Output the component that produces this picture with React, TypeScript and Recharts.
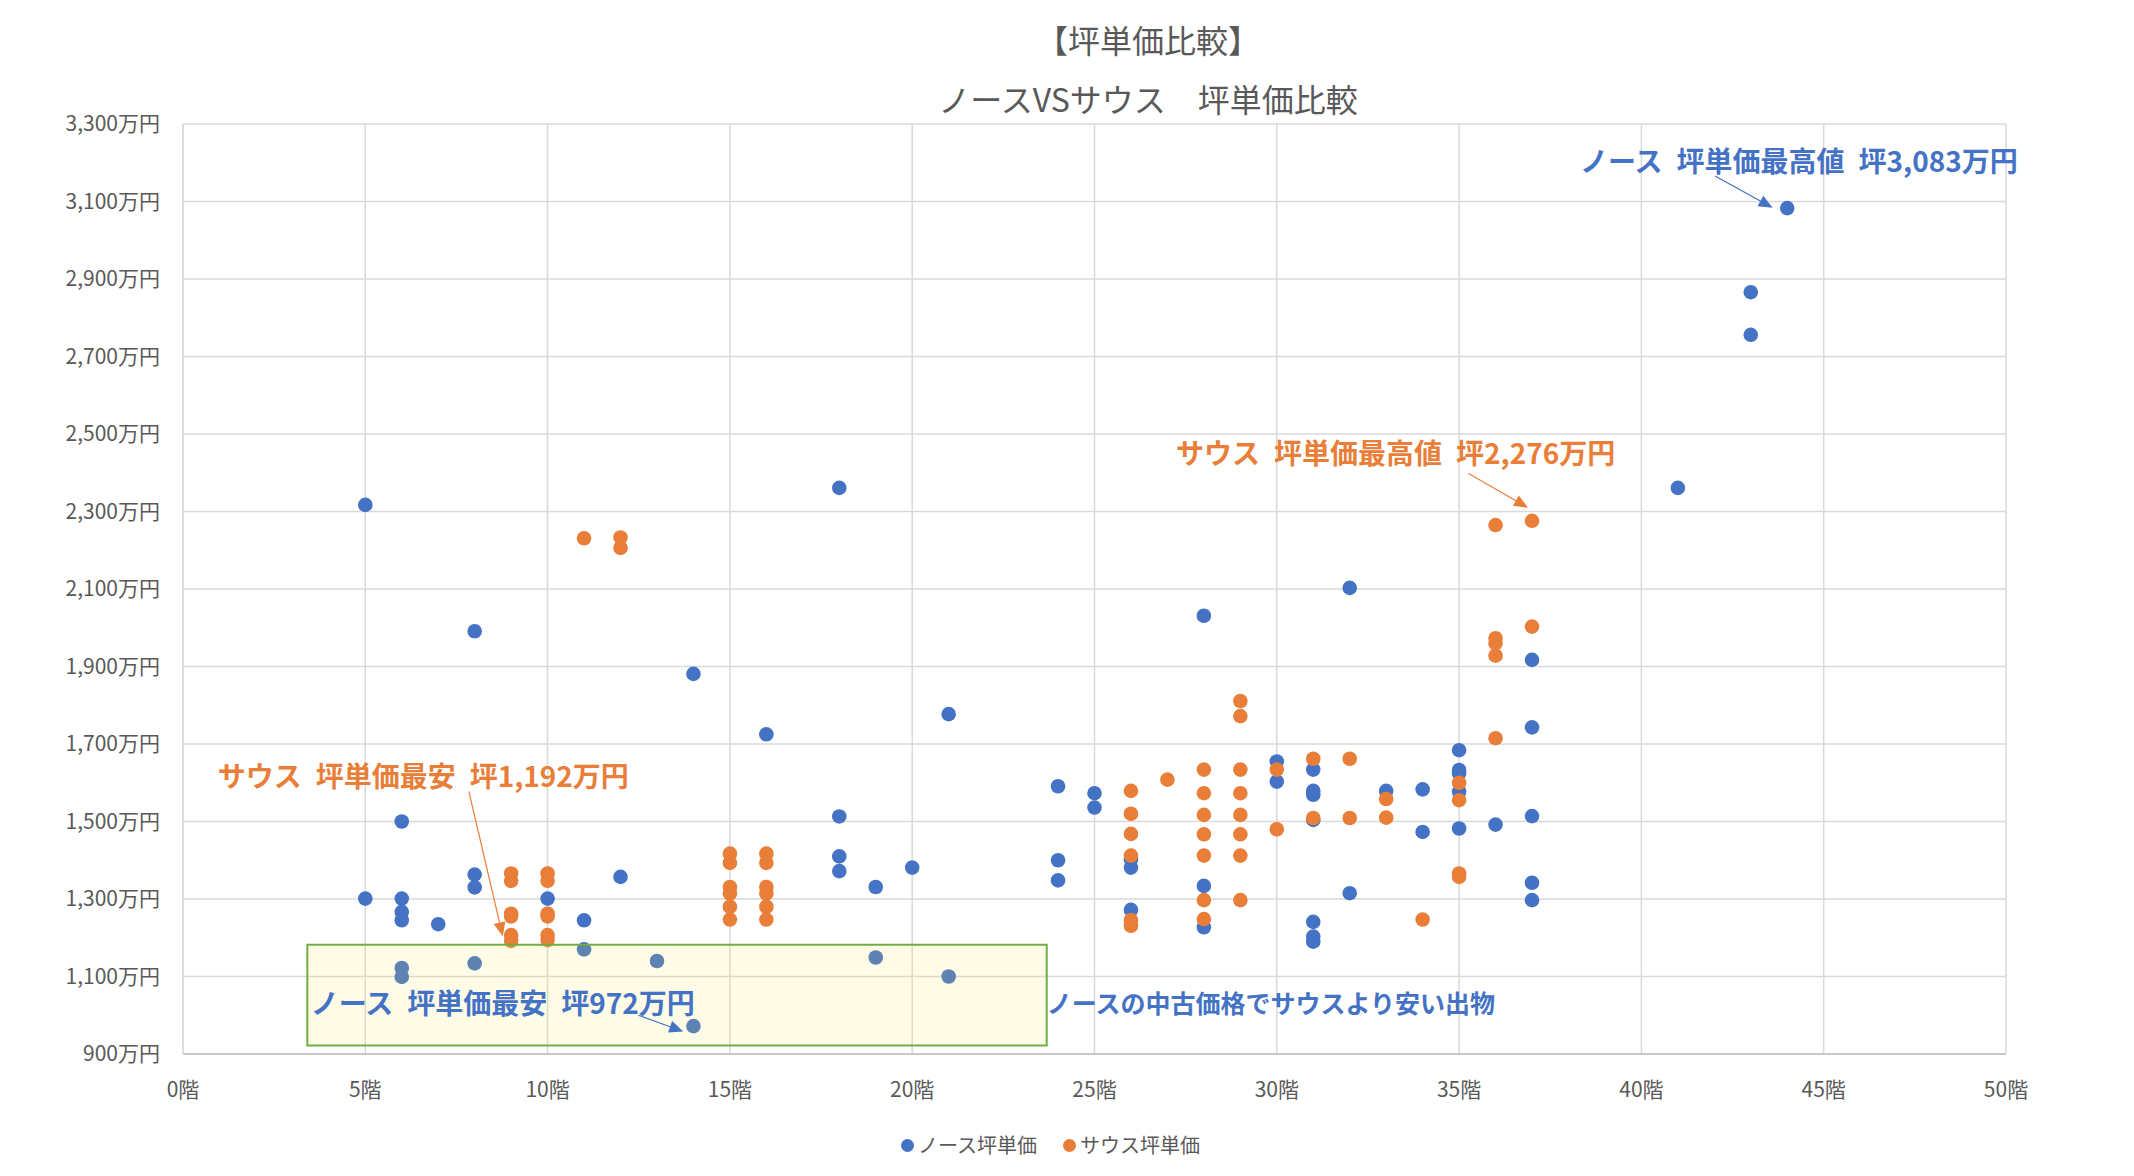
import {
  ScatterChart,
  Scatter,
  XAxis,
  YAxis,
  CartesianGrid,
  ReferenceArea,
  ReferenceLine,
  ReferenceDot,
} from "recharts";

// ノース (blue) : 階数 / 坪単価(万円)
const northFloor = [
  5, 5, 6, 6, 6, 6, 6, 6, 7, 8, 8, 8, 8, 10, 11, 11, 12, 13, 14, 14, 16, 18, 18, 18, 18, 19, 19, 20, 21, 21,
  24, 24, 24, 25, 25, 26, 26, 26, 28, 28, 28, 30, 30, 31, 31, 31, 31, 31, 31, 31, 32, 32, 33, 34, 34,
  35, 35, 35, 35, 35, 36, 37, 37, 37, 37, 37, 41, 43, 43, 44,
];
const northPrice = [
  2317, 1301, 1500, 1301, 1267, 1245, 1122, 1099, 1235, 1991, 1363, 1330, 1134, 1301, 1245, 1170, 1357, 1140, 1881, 972, 1725, 2361, 1513, 1410, 1372, 1331, 1149, 1381, 1777, 1100,
  1591, 1400, 1348, 1573, 1536, 1402, 1381, 1272, 2031, 1334, 1227, 1655, 1603, 1634, 1579, 1569, 1504, 1241, 1203, 1190, 2103, 1315, 1579, 1583, 1473,
  1684, 1633, 1624, 1577, 1482, 1492, 1917, 1743, 1514, 1342, 1297, 2361, 2866, 2756, 3083,
];

// サウス (orange)
const southFloor = [
  9, 9, 9, 9, 9, 9, 10, 10, 10, 10, 10, 10, 11, 12, 12, 15, 15, 15, 15, 15, 15, 16, 16, 16, 16, 16, 16,
  26, 26, 26, 26, 26, 26, 27, 28, 28, 28, 28, 28, 28, 28, 29, 29, 29, 29, 29, 29, 29, 29,
  30, 30, 31, 31, 32, 32, 33, 33, 34, 35, 35, 35, 35, 36, 36, 36, 36, 36, 37, 37,
];
const southPrice = [
  1366, 1347, 1262, 1255, 1207, 1192, 1366, 1347, 1262, 1255, 1207, 1194, 2231, 2233, 2206, 1417, 1393, 1331, 1314, 1280, 1247, 1417, 1393, 1331, 1314, 1280, 1247,
  1579, 1520, 1468, 1412, 1246, 1231, 1608, 1634, 1573, 1517, 1467, 1412, 1297, 1248, 1811, 1772, 1634, 1573, 1517, 1467, 1412, 1297,
  1634, 1480, 1662, 1509, 1662, 1509, 1558, 1510, 1247, 1600, 1555, 1366, 1357, 2265, 1973, 1960, 1928, 1715, 2276, 2003,
];

const xTicks = [0, 5, 10, 15, 20, 25, 30, 35, 40, 45, 50];
const yTicks = [900, 1100, 1300, 1500, 1700, 1900, 2100, 2300, 2500, 2700, 2900, 3100, 3300];

const BLUE = "#4472C4";
const ORANGE = "#E87E38";
const GRAY = "#595959";
const FONT = "'Noto Sans CJK JP', 'Noto Sans', sans-serif";
const SP = "\u2002"; // 半角幅の空白

const northData = northFloor.map((f, i) => ({ floor: f, price: northPrice[i] }));
const southData = southFloor.map((f, i) => ({ floor: f, price: southPrice[i] }));

const yen = (v: number) => `${String(v).replace(/\B(?=(\d{3})+(?!\d))/g, ",")}万円`;

const dot = (color: string) => (p: any) => <circle cx={p.cx} cy={p.cy} r={7.3} fill={color} />;

// 矢印 (線 + 三角)
const arrow = (color: string) => (p: any) => {
  const { x1, y1, x2, y2 } = p;
  const dx = x2 - x1;
  const dy = y2 - y1;
  const len = Math.sqrt(dx * dx + dy * dy) || 1;
  const ux = dx / len;
  const uy = dy / len;
  const bx = x2 - ux * 14;
  const by = y2 - uy * 14;
  const pts = `${x2},${y2} ${bx - uy * 6},${by + ux * 6} ${bx + uy * 6},${by - ux * 6}`;
  return (
    <g>
      <line x1={x1} y1={y1} x2={bx} y2={by} stroke={color} strokeWidth={1.2} />
      <polygon points={pts} fill={color} />
    </g>
  );
};

const note = (text: string, color: string, size = 28) => (p: any) => (
  <text
    x={p.cx}
    y={p.cy}
    textAnchor="middle"
    dominantBaseline="central"
    fill={color}
    fontSize={size}
    fontWeight={700}
    fontFamily={FONT}
    style={{ whiteSpace: "pre" }}
  >
    {text}
  </text>
);

const titleStyle: any = {
  position: "absolute",
  left: 648,
  width: 1000,
  textAlign: "center",
  fontSize: 32,
  lineHeight: "40px",
  color: GRAY,
  whiteSpace: "pre",
};

export default function App() {
  return (
    <div style={{ position: "absolute", left: 0, top: 0, width: 2134, height: 1176, background: "#fff", fontFamily: FONT }}>
      {/* タイトル */}
      <div style={{ ...titleStyle, top: 19 }}>【坪単価比較】</div>
      <div style={{ ...titleStyle, top: 78 }}>{`ノースVSサウス${SP}${SP}坪単価比較`}</div>

      <ScatterChart width={2134} height={1176} margin={{ top: 124, right: 128, bottom: 0, left: 0 }}>
        <CartesianGrid stroke="#D9D9D9" strokeWidth={1.5} />
        <XAxis
          type="number"
          dataKey="floor"
          domain={[0, 50]}
          ticks={xTicks}
          interval={0}
          tickFormatter={(v) => `${v}階`}
          height={122}
          axisLine={{ stroke: "#BFBFBF", strokeWidth: 1.5 }}
          tickLine={false}
          tickSize={0}
          tickMargin={28}
          tick={{ fill: GRAY, fontSize: 21, fontFamily: FONT }}
        />
        <YAxis
          type="number"
          dataKey="price"
          domain={[900, 3300]}
          ticks={yTicks}
          interval={0}
          tickFormatter={yen}
          width={183}
          axisLine={{ stroke: "#D9D9D9", strokeWidth: 1.5 }}
          tickLine={false}
          tickSize={0}
          tickMargin={23}
          tick={{ fill: GRAY, fontSize: 21, fontFamily: FONT }}
        />
        <Scatter name="ノース坪単価" data={northData} fill={BLUE} shape={dot(BLUE)} isAnimationActive={false} />
        <Scatter name="サウス坪単価" data={southData} fill={ORANGE} shape={dot(ORANGE)} isAnimationActive={false} />

        <ReferenceArea
          x1={3.41}
          x2={23.69}
          y1={922}
          y2={1182}
          fill="rgb(248,228,87)"
          fillOpacity={0.15}
          stroke="#70AD47"
          strokeWidth={2}
          ifOverflow="visible"
          zIndex={700}
        />

        <ReferenceLine segment={[{ x: 42.02, y: 3166 }, { x: 43.6, y: 3084 }]} shape={arrow(BLUE)} ifOverflow="visible" zIndex={800} />
        <ReferenceLine segment={[{ x: 35.26, y: 2398 }, { x: 36.89, y: 2310 }]} shape={arrow(ORANGE)} ifOverflow="visible" zIndex={800} />
        <ReferenceLine segment={[{ x: 7.84, y: 1578 }, { x: 8.77, y: 1204 }]} shape={arrow(ORANGE)} ifOverflow="visible" zIndex={800} />
        <ReferenceLine segment={[{ x: 12.49, y: 1000 }, { x: 13.72, y: 958 }]} shape={arrow(BLUE)} ifOverflow="visible" zIndex={800} />

        <ReferenceDot x={44.32} y={3207} r={0} ifOverflow="visible" shape={note(`ノース${SP}坪単価最高値${SP}坪3,083万円`, BLUE)} zIndex={900} />
        <ReferenceDot x={33.26} y={2453} r={0} ifOverflow="visible" shape={note(`サウス${SP}坪単価最高値${SP}坪2,276万円`, ORANGE)} zIndex={900} />
        <ReferenceDot x={6.59} y={1620} r={0} ifOverflow="visible" shape={note(`サウス${SP}坪単価最安${SP}坪1,192万円`, ORANGE)} zIndex={900} />
        <ReferenceDot x={8.77} y={1034} r={0} ifOverflow="visible" shape={note(`ノース${SP}坪単価最安${SP}坪972万円`, BLUE)} zIndex={900} />
        <ReferenceDot x={29.84} y={1034} r={0} ifOverflow="visible" shape={note("ノースの中古価格でサウスより安い出物", BLUE, 25)} zIndex={900} />
      </ScatterChart>

      {/* 凡例 */}
      <div style={{ position: "absolute", left: 901, top: 1132, display: "flex", alignItems: "center", fontSize: 20, lineHeight: "26px", color: GRAY }}>
        <span style={{ display: "inline-block", width: 13, height: 13, borderRadius: "50%", background: BLUE, marginRight: 4 }} />
        <span>ノース坪単価</span>
        <span style={{ display: "inline-block", width: 13, height: 13, borderRadius: "50%", background: ORANGE, marginLeft: 26, marginRight: 4 }} />
        <span>サウス坪単価</span>
      </div>
    </div>
  );
}
